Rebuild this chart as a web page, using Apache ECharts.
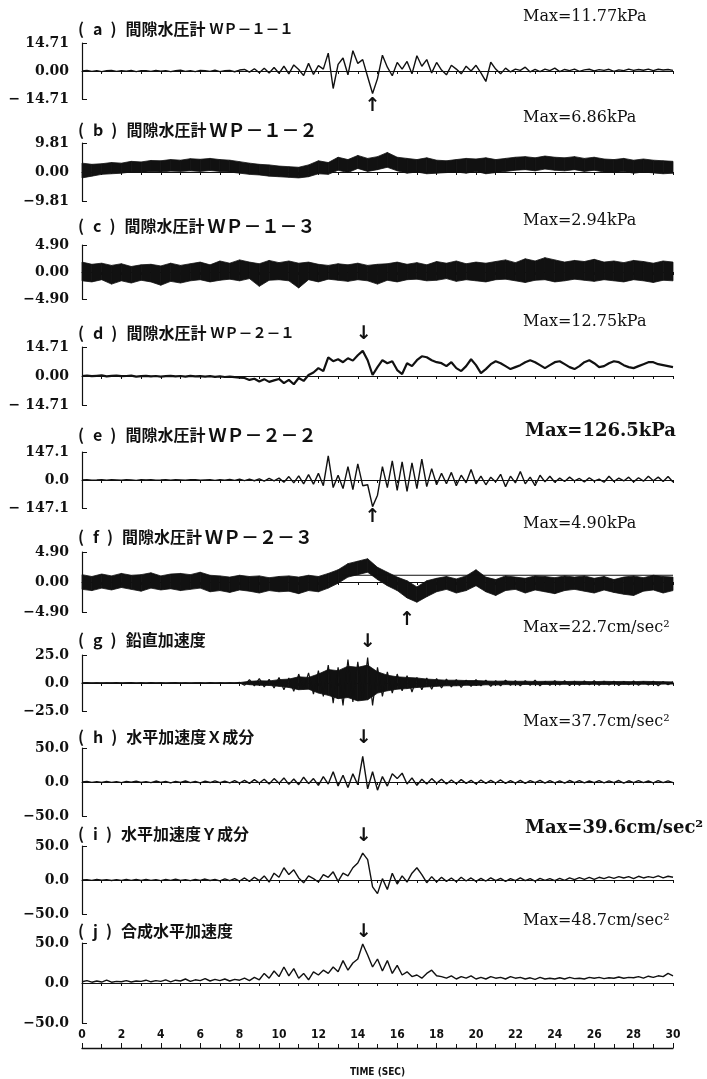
<!DOCTYPE html>
<html>
<head>
<meta charset="utf-8">
<title>間隙水圧・加速度 時刻歴</title>
<script src="https://cdn.jsdelivr.net/npm/echarts@6.0.0/dist/echarts.min.js"></script>
<style>
  html, body { margin: 0; padding: 0; background: #fff; }
  #chart { width: 707px; height: 1079px; }
</style>
</head>
<body>
<div id="chart"></div>
<script>
// single traces: readings every 0.25 s from 0 to 30 s (121 values)
const TIME_STEP = 0.25;
// dense (band-like) records: upper / lower envelope every 0.5 s (61 values)
const ENVELOPE_STEP = 0.5;

const panelLetters = ['a', 'b', 'c', 'd', 'e', 'f', 'g', 'h', 'i', 'j'];
const panelNames = ['間隙水圧計', '間隙水圧計', '間隙水圧計', '間隙水圧計', '間隙水圧計', '間隙水圧計',
  '鉛直加速度', '水平加速度Ｘ成分', '水平加速度Ｙ成分', '合成水平加速度'];
const gaugeIds = ['ＷＰ－１－１', 'ＷＰ－１－２', 'ＷＰ－１－３', 'ＷＰ－２－１', 'ＷＰ－２－２', 'ＷＰ－２－３', '', '', '', ''];
const maxLabels = ['Max=11.77kPa', 'Max=6.86kPa', 'Max=2.94kPa', 'Max=12.75kPa', 'Max=126.5kPa', 'Max=4.90kPa',
  'Max=22.7cm/sec²', 'Max=37.7cm/sec²', 'Max=39.6cm/sec²', 'Max=48.7cm/sec²'];
const yLimits = [14.71, 9.81, 4.90, 14.71, 147.1, 4.90, 25.0, 50.0, 50.0, 50.0];
const yTickLabels = [
  ['− 14.71', '0.00', '14.71'], ['−9.81', '0.00', '9.81'], ['−4.90', '0.00', '4.90'],
  ['− 14.71', '0.00', '14.71'], ['− 147.1', '0.0', '147.1'], ['−4.90', '0.00', '4.90'],
  ['−25.0', '0.0', '25.0'], ['−50.0', '0.0', '50.0'], ['−50.0', '0.0', '50.0'], ['−50.0', '0.0', '50.0']
];

// (a) WP-1-1 kPa
const wp11 = [
  0, 0.3, -0.2, 0.2, -0.3, 0.1, 0.3, -0.2, 0.2,
  -0.1, 0.3, -0.3, 0.2, 0.1, -0.2, 0.3, -0.1,
  0.2, -0.3, 0.1, 0.4, -0.2, 0.2, -0.3, 0.3,
  0.1, -0.2, 0.4, -0.3, 0.2, 0.3, -0.4, 0.5,
  0.8, -0.6, 1.2, -0.9, 1.5, -1.0, 1.8, -1.2,
  2.5, -1.5, 3.2, 0.8, -2.4, 4.0, -1.8, 2.8,
  1.0, 9.4, -9.2, 3.5, 6.8, -2.0, 10.7, 4.0,
  6.0, -3.0, -11.8, -4.0, 8.3, 2.0, -2.5, 4.5,
  1.0, 5.0, -1.5, 8.0, 2.5, 6.0, -1.0, 4.5,
  0.5, -2.0, 3.0, 1.0, -1.5, 2.5, 0.0, 3.0,
  -1.0, -5.5, 4.6, 1.0, -1.5, 1.5, -0.5, 1.0,
  0.3, 2.0, -0.5, 0.8, -0.3, 1.0, 0.2, 1.5,
  -0.3, 0.8, 0.2, 1.0, -0.2, 0.6, 0.9, 0.1,
  0.7, 0.3, 0.9, -0.2, 0.6, 0.2, 1.0, 0.3,
  0.8, 0.4, 1.0, 0.2, 0.9, 0.5, 0.8, 0.3
];
// (b) WP-1-2 kPa, envelope of the dense record
const wp12Upper = [
  3.0, 2.6, 2.8, 3.2, 3.0, 3.6, 3.4, 3.9, 3.8, 4.2, 4.0,
  4.5, 4.3, 4.6, 4.2, 4.0, 3.5, 3.0, 2.6, 2.4, 2.0,
  1.8, 1.6, 2.4, 3.8, 3.2, 5.0, 4.2, 5.6, 4.6, 5.2,
  6.6, 5.0, 4.6, 4.2, 4.8, 4.0, 3.8, 4.2, 4.6, 4.4,
  4.8, 4.2, 4.6, 5.0, 5.2, 4.8, 5.4, 5.0, 4.8, 5.2,
  4.6, 5.0, 4.4, 4.2, 4.6, 4.0, 4.4, 4.0, 3.8, 3.6
];
const wp12Lower = [
  -2.0, -1.4, -0.8, -0.6, -0.4, 0.0, -0.2, 0.2, 0.0, 0.3, 0.2,
  0.4, 0.2, 0.5, 0.2, 0.0, -0.4, -0.8, -1.0, -1.4, -1.6,
  -1.8, -2.0, -1.6, -0.6, -0.8, 0.6, -0.2, 1.2, 0.2, 0.8,
  1.6, 0.4, -0.4, 0.0, -0.6, -0.4, -0.2, 0.0, -0.4, 0.2,
  -0.6, -0.2, 0.2, 0.6, 0.8, 0.4, 1.0, 0.6, 0.4, 0.8,
  0.2, 0.6, 0.0, -0.2, 0.2, -0.4, 0.0, -0.3, -0.6, -0.4
];
// (c) WP-1-3 kPa, envelope
const wp13Upper = [
  1.8, 1.4, 1.6, 1.2, 1.5, 1.0, 1.3, 1.4, 1.1, 1.6, 1.2,
  1.5, 1.8, 1.3, 2.0, 1.6, 2.2, 1.8, 1.5, 2.1, 1.7,
  2.0, 1.6, 1.8, 1.4, 1.2, 1.5, 1.3, 1.6, 1.2, 1.4,
  1.5, 1.8, 1.4, 1.7, 1.3, 1.9, 1.6, 2.0, 1.5, 1.8,
  1.6, 1.9, 2.2, 1.7, 2.4, 2.0, 2.6, 2.2, 1.8, 2.1,
  1.9, 2.3, 1.8, 2.0, 1.7, 2.1, 1.9, 1.6, 2.0, 1.8
];
const wp13Lower = [
  -1.6, -1.8, -1.4, -2.2, -1.6, -2.0, -1.5, -1.8, -2.4, -1.7, -2.0,
  -1.6, -1.4, -1.8, -1.5, -1.3, -1.6, -1.2, -2.6, -1.5, -1.4,
  -1.6, -2.9, -1.4, -1.8, -1.3, -1.5, -1.7, -1.4, -1.6, -2.2,
  -1.5, -1.8, -1.4, -1.3, -1.6, -1.5, -1.2, -1.7, -1.4, -1.6,
  -1.8, -1.4, -1.3, -1.6, -1.9, -1.5, -1.4, -1.8, -1.6, -1.3,
  -1.5, -1.7, -1.4, -1.6, -1.8, -1.4, -1.6, -1.9, -1.5, -1.6
];
// (d) WP-2-1 kPa
const wp21 = [
  0, 0.2, -0.1, 0.1, 0.3, -0.2, 0.1, 0.2, -0.1,
  0.0, 0.2, -0.3, -0.1, 0.1, -0.2, 0.0, -0.3,
  -0.1, 0.1, -0.2, 0.0, -0.3, 0.1, -0.2, -0.1,
  -0.3, -0.1, -0.4, -0.2, -0.5, -0.3, -0.6, -0.8,
  -1.0, -2.0, -1.4, -2.8, -1.6, -3.0, -2.2, -1.5,
  -3.6, -2.0, -4.2, -1.0, -2.5, 0.5, 1.8, 4.0,
  2.5, 9.4, 7.5, 8.5, 7.0, 9.0, 7.8, 10.5,
  12.75, 8.0, 0.5, 4.5, 8.0, 6.5, 7.5, 3.0,
  1.0, 6.5, 5.0, 8.0, 10.0, 9.5, 8.0, 7.0,
  6.5, 5.0, 7.0, 4.0, 2.5, 5.0, 8.5, 5.5,
  1.5, 3.5, 6.0, 7.5, 6.5, 5.0, 3.5, 4.5,
  5.5, 7.0, 8.0, 7.0, 5.5, 4.0, 5.5, 7.0,
  7.5, 6.0, 4.5, 3.5, 5.0, 7.0, 8.0, 6.5,
  4.5, 5.0, 6.5, 7.5, 7.0, 5.5, 4.5, 4.0,
  5.0, 6.0, 7.0, 7.0, 6.0, 5.5, 5.0, 4.5
];
// (e) WP-2-2 kPa
const wp22 = [
  0, 1, -1, 0, 2, -1, 1, 0, -1,
  1, 0, -2, 1, 0, 1, -1, 0,
  2, -1, 1, 0, -1, 1, 2, -1,
  0, 1, -2, 2, -1, 3, -2, 4,
  -3, 5, -4, 6, -6, 8, -5, 10,
  -12, 18, -15, 22, -20, 28, -22, 35,
  -30, 126.5, -40, 25, -45, 70, -50, 85,
  -30, -25, -140, -80, 70, -40, 100, -55,
  95, -60, 90, -45, 110, -35, 60, -25,
  35, -20, 40, -30, 25, -15, 55, -20,
  20, -25, 15, -10, 30, -35, 20, -15,
  45, -20, 15, -30, 25, -10, 20, -12,
  10, -8, 15, -5, 8, -10, 12, -6,
  5, -12, 20, -8, 10, -5, 15, -10,
  12, -6, 20, -4, 15, -8, 18, -10
];
// (f) WP-2-3 kPa, envelope
const wp23Upper = [
  1.2, 0.9, 1.3, 1.0, 1.4, 1.1, 1.2, 1.5, 1.0, 1.3, 1.4,
  1.2, 1.6, 1.1, 1.0, 0.8, 1.1, 0.9, 1.0, 0.7, 0.9,
  1.0, 0.8, 1.1, 0.9, 1.4, 2.0, 3.0, 3.4, 3.8, 2.4,
  1.6, 0.8, 0.2, -0.8, 0.2, 0.6, 0.9, 0.5, 1.0, 2.0,
  0.8, 0.4, 1.0, 0.8, 0.6, 1.0, 0.9, 0.7, 1.0, 0.8,
  1.0, 0.6, 0.9, 0.4, 0.8, 1.0, 0.7, 1.1, 0.9, 0.8
];
const wp23Lower = [
  -1.2, -1.4, -1.0, -1.3, -0.9, -1.2, -1.5, -1.0, -1.3, -1.1, -1.4,
  -1.2, -1.0, -1.6, -1.4, -1.7, -1.3, -1.5, -1.8, -1.4, -1.6,
  -1.5, -1.9, -1.4, -1.6, -1.0, -0.2, 0.8, 1.2, 1.6, 0.4,
  -0.6, -1.4, -2.6, -3.3, -2.4, -1.6, -1.2, -1.8, -1.4, -0.6,
  -1.6, -2.2, -1.4, -1.2, -1.8, -1.3, -1.6, -1.9, -1.4, -1.2,
  -1.5, -1.8, -1.3, -1.7, -2.0, -2.2, -1.5, -1.3, -1.8, -1.4
];
// straight reference level drawn over (f): [time, kPa] at its two ends
const wp23RefLine = [[13.2, 1.1], [30, 1.1]];
// (g) vertical acceleration cm/sec2: spikes plus the dense core
const accVert = [
  0, 0.3, -0.2, 0.2, -0.3, 0.2, -0.1, 0.3, -0.2,
  0.1, 0.3, -0.3, 0.2, -0.2, 0.3, -0.1, 0.2,
  -0.3, 0.1, 0.3, -0.2, 0.2, -0.3, 0.1, 0.2,
  -0.2, 0.3, -0.1, 0.2, -0.3, 0.2, -0.2, 0.5,
  -2.0, 3.0, -2.5, 4.0, -3.5, 3.2, -4.5, 5.0,
  -6.0, 4.5, -7.5, 8.0, -5.5, 9.0, -10.0, 11.0,
  -12.0, 16.0, -18.0, 14.0, -20.0, 21.0, -17.0, 19.0,
  -15.0, 22.7, -20.0, 14.0, -12.0, 10.0, -9.0, 8.0,
  -7.0, 6.5, -8.0, 5.0, -6.0, 4.5, -5.5, 4.0,
  -4.5, 3.5, -3.5, 3.0, -4.0, 2.5, -3.0, 3.0,
  -2.5, 2.5, -3.0, 2.0, -2.5, 2.5, -2.0, 2.0,
  -2.5, 2.0, -2.0, 2.5, -2.5, 1.5, -2.0, 2.0,
  -1.8, 2.0, -2.2, 1.5, -2.0, 1.8, -1.5, 2.0,
  -2.0, 1.5, -1.8, 1.6, -2.2, 1.4, -1.6, 1.8,
  -2.0, 1.2, -1.8, 1.5, -2.4, 1.2, -1.6, 1.0
];
const accVertUpper = [
  0.3, 0.2, 0.3, 0.2, 0.3, 0.2, 0.3, 0.2, 0.3, 0.2, 0.3,
  0.2, 0.3, 0.2, 0.3, 0.3, 0.4, 1.5, 2.0, 1.8, 3.0,
  3.5, 5.5, 5.0, 8.0, 12.0, 11.0, 15.0, 14.0, 16.0, 10.0,
  7.0, 5.5, 5.0, 4.5, 3.5, 3.0, 2.5, 2.5, 2.2, 2.2,
  1.8, 1.6, 1.8, 1.5, 1.6, 1.4, 1.5, 1.6, 1.3, 1.5,
  1.4, 1.2, 1.5, 1.3, 1.4, 1.2, 1.5, 1.3, 1.2, 1.0
];
const accVertLower = [
  -0.3, -0.2, -0.3, -0.2, -0.3, -0.2, -0.3, -0.2, -0.3, -0.2, -0.3,
  -0.2, -0.3, -0.2, -0.3, -0.3, -0.4, -1.5, -2.0, -2.2, -3.0,
  -4.0, -6.0, -5.5, -9.0, -11.0, -14.0, -13.0, -16.0, -15.0, -9.0,
  -7.0, -5.5, -5.0, -4.0, -3.5, -3.0, -2.5, -2.5, -2.0, -2.2,
  -1.6, -1.8, -1.4, -1.6, -1.3, -1.5, -1.3, -1.4, -1.2, -1.3,
  -1.3, -1.2, -1.4, -1.1, -1.3, -1.2, -1.1, -1.3, -1.0, -1.0
];
// (h) horizontal acceleration X cm/sec2
const accX = [
  0, 0.8, -0.6, 0.5, -0.8, 1.0, -0.5, 0.6, -1.0,
  0.8, -0.4, 1.2, -0.8, 0.6, -1.0, 1.4, -0.6,
  0.8, -1.2, 1.0, -0.5, 1.5, -1.0, 0.8, -1.4,
  1.2, -0.8, 1.6, -1.0, 1.4, -1.2, 2.0, -1.5,
  2.5, -2.0, 3.5, -1.5, 4.0, -3.0, 5.0, -2.0,
  6.0, -3.5, 4.5, -4.0, 7.0, -2.5, 5.0, -5.0,
  8.0, -3.0, 15.0, -6.0, 10.0, -8.0, 12.0, -4.0,
  37.7, -10.0, 15.0, -12.0, 8.0, -6.0, 12.0, 5.0,
  13.0, -3.0, 6.0, -5.0, 4.0, -3.0, 5.0, -2.0,
  4.0, -3.0, 3.0, -2.5, 3.5, -2.0, 2.5, -3.0,
  3.0, -2.0, 2.5, -1.5, 3.0, -2.0, 2.0, -1.5,
  2.5, -2.0, 2.0, -1.0, 2.5, -1.5, 2.0, -1.2,
  1.8, -1.5, 2.2, -1.0, 2.0, -1.4, 1.5, -1.0,
  2.0, -1.2, 1.6, -1.0, 2.2, -1.5, 1.8, -1.0,
  2.0, -1.0, 1.5, -1.2, 2.0, -0.8, 1.6, -1.0
];
// (i) horizontal acceleration Y cm/sec2
const accY = [
  0, 0.5, -0.5, 0.8, -0.4, 0.6, -0.8, 0.5, -0.6,
  1.0, -0.5, 0.8, -0.7, 1.0, -0.5, 0.6, -1.0,
  0.8, -0.5, 1.2, -0.8, 0.6, -1.0, 1.0, -0.6,
  1.4, -0.8, 1.0, -1.2, 1.6, -1.0, 2.0, -1.5,
  3.0, -2.0, 4.0, -1.0, 6.0, -3.0, 10.0, 4.0,
  18.0, 8.0, 15.0, 3.0, -4.0, 6.0, 2.0, -3.0,
  8.0, 4.0, 12.0, -2.0, 10.0, 6.0, 18.0, 25.0,
  39.6, 30.0, -10.0, -20.0, 2.0, -14.0, 10.0, -6.0,
  6.0, -3.0, 10.0, 18.0, 8.0, -4.0, 5.0, -3.0,
  4.0, -2.0, 3.0, -2.5, 4.0, -1.5, 3.0, -2.0,
  2.5, -1.5, 3.0, -1.0, 2.5, -2.0, 2.0, -1.0,
  3.0, -1.0, 2.0, -1.5, 2.5, -0.5, 2.0, -1.0,
  2.5, -0.5, 3.0, 0.5, 3.5, 1.0, 4.0, 1.0,
  4.0, 2.0, 4.5, 2.5, 5.0, 3.0, 5.0, 2.0,
  5.5, 3.0, 5.0, 3.5, 6.0, 3.0, 5.5, 4.0
];
// (j) resultant horizontal acceleration cm/sec2
const accHoriz = [
  1.5, 3.0, 1.0, 2.5, 1.2, 3.5, 1.0, 2.0, 1.5,
  3.0, 1.2, 2.5, 2.0, 3.5, 1.5, 3.0, 2.0,
  4.0, 1.5, 3.5, 2.5, 5.0, 2.0, 4.0, 3.0,
  5.5, 2.5, 4.5, 3.0, 5.0, 2.5, 4.5, 3.5,
  6.0, 3.0, 7.0, 4.0, 12.0, 6.0, 15.0, 8.0,
  20.0, 9.0, 18.0, 6.0, 12.0, 4.0, 14.0, 10.0,
  16.0, 12.0, 20.0, 14.0, 28.0, 16.0, 25.0, 30.0,
  48.7, 35.0, 20.0, 30.0, 15.0, 28.0, 12.0, 22.0,
  10.0, 14.0, 8.0, 10.0, 6.0, 12.0, 16.0, 9.0,
  8.0, 6.0, 9.0, 5.0, 8.0, 6.0, 9.0, 5.0,
  7.0, 5.0, 8.0, 6.0, 7.0, 5.0, 8.0, 6.0,
  7.0, 5.0, 6.5, 4.5, 7.0, 5.0, 6.0, 5.0,
  6.5, 5.0, 7.0, 5.5, 6.0, 5.0, 7.0, 6.0,
  7.0, 5.5, 6.5, 6.0, 7.5, 6.0, 7.0, 6.5,
  8.0, 6.0, 8.5, 7.0, 9.0, 8.0, 12.0, 9.0
];

// what each panel draws: a single trace and/or a filled envelope
const panelTraces = [wp11, null, null, wp21, wp22, null, accVert, accX, accY, accHoriz];
const panelBands = [null, [wp12Lower, wp12Upper], [wp13Lower, wp13Upper], null, null,
  [wp23Lower, wp23Upper], [accVertLower, accVertUpper], null, null, null];

// arrows marking the peaks: panel, time, level in the panel's units
const arrows = [
  { panel: 0, t: 14.75, v: -18.4, glyph: '↑' },
  { panel: 3, t: 14.3, v: 21.3, glyph: '↓' },
  { panel: 4, t: 14.75, v: -194, glyph: '↑' },
  { panel: 5, t: 16.5, v: -6.2, glyph: '↑' },
  { panel: 6, t: 14.5, v: 36.6, glyph: '↓' },
  { panel: 7, t: 14.3, v: 64.7, glyph: '↓' },
  { panel: 8, t: 14.3, v: 64.7, glyph: '↓' },
  { panel: 9, t: 14.3, v: 63.8, glyph: '↓' }
];

// layout (pixels from top)
const gridTops = [43, 143, 245, 347, 452, 552, 655, 748, 846, 943];
const gridBottoms = [99, 201, 299, 405, 508, 612, 711, 816, 914, 1023];
const titleCentres = [29, 130, 226, 333, 435, 537, 640, 737, 834, 931];
const maxCentres = [17, 118, 221, 322, 431, 524, 628, 722, 828, 921];
const lineWidths = [1.4, 1, 1, 2.2, 1.4, 1, 1.2, 1.4, 1.4, 1.4];
const bigGauge = [false, true, true, false, true, true];
const boldMax = [false, false, false, false, true, false, false, false, true, false];

const INK = '#111';
const JP = '"Noto Sans CJK JP", sans-serif';
const SERIF = '"DejaVu Serif", "Liberation Serif", serif';
const NARROW = '"DejaVu Sans Condensed", "Liberation Sans Narrow", sans-serif';

const chart = echarts.init(document.getElementById('chart'));

const grids = panelLetters.map((_, i) => ({
  left: 82,
  right: 34,
  top: gridTops[i],
  height: gridBottoms[i] - gridTops[i]
}));

// zero-line axes with 1 s ticks
const xAxes = panelLetters.map((_, i) => ({
  gridIndex: i,
  type: 'value',
  min: 0,
  max: 30,
  interval: 1,
  axisLine: { onZero: true, lineStyle: { color: INK, width: 1 } },
  axisTick: { show: true, length: 3, lineStyle: { color: INK } },
  axisLabel: { show: false },
  splitLine: { show: false }
}));

// time axis under the last panel
xAxes.push({
  gridIndex: 9,
  type: 'value',
  min: 0,
  max: 30,
  interval: 2,
  position: 'bottom',
  offset: 25,
  axisLine: { onZero: false, lineStyle: { color: INK, width: 1.3 } },
  axisTick: { show: true, inside: true, length: 5, lineStyle: { color: INK } },
  minorTick: { show: true, splitNumber: 2, length: 4, lineStyle: { color: INK } },
  axisLabel: { inside: true, margin: 7, color: INK, fontFamily: NARROW, fontWeight: 'bold', fontSize: 12 },
  splitLine: { show: false },
  name: 'TIME (SEC)',
  nameLocation: 'middle',
  nameGap: 19,
  nameTextStyle: { color: INK, fontFamily: NARROW, fontWeight: 'bold', fontSize: 10 }
});

const yAxes = panelLetters.map((_, i) => ({
  gridIndex: i,
  type: 'value',
  min: -yLimits[i],
  max: yLimits[i],
  interval: yLimits[i],
  axisLine: { show: true, lineStyle: { color: INK, width: 1.2 } },
  axisTick: { show: true, inside: true, length: 5, lineStyle: { color: INK } },
  splitLine: { show: false },
  axisLabel: {
    color: INK,
    fontFamily: SERIF,
    fontWeight: 'bold',
    fontSize: 14,
    margin: 13,
    formatter: v => (v < 0 ? yTickLabels[i][0] : v > 0 ? yTickLabels[i][2] : yTickLabels[i][1])
  }
}));

// a filled envelope: each item is one 0.5 s slice [t0, lo0, hi0, t1, lo1, hi1]
function bandSeries(i, lower, upper) {
  const slices = lower.slice(0, -1).map((lo, k) => [
    k * ENVELOPE_STEP, lo, upper[k], (k + 1) * ENVELOPE_STEP, lower[k + 1], upper[k + 1]
  ]);
  return {
    type: 'custom',
    coordinateSystem: 'cartesian2d',
    xAxisIndex: i,
    yAxisIndex: i,
    silent: true,
    encode: { x: [0, 3], y: [1, 2, 4, 5] },
    data: slices,
    renderItem: (params, api) => {
      const a = api.coord([api.value(0), api.value(1)]);
      const b = api.coord([api.value(0), api.value(2)]);
      const c = api.coord([api.value(3), api.value(5)]);
      const d = api.coord([api.value(3), api.value(4)]);
      return {
        type: 'polygon',
        shape: { points: [a, b, c, d] },
        style: { fill: INK, stroke: INK, lineWidth: 0.8 }
      };
    }
  };
}

const series = [];
panelLetters.forEach((_, i) => {
  const band = panelBands[i];
  if (band) series.push(bandSeries(i, band[0], band[1]));
  const values = panelTraces[i];
  if (values) {
    series.push({
      type: 'line',
      xAxisIndex: i,
      yAxisIndex: i,
      data: values.map((v, k) => [k * TIME_STEP, v]),
      showSymbol: false,
      symbol: 'none',
      silent: true,
      lineStyle: { color: INK, width: lineWidths[i] }
    });
  }
});

series.push({
  type: 'line',
  xAxisIndex: 5,
  yAxisIndex: 5,
  data: wp23RefLine,
  showSymbol: false,
  symbol: 'none',
  silent: true,
  lineStyle: { color: INK, width: 1 }
});

const titleRich = {
  p: { fontFamily: JP, fontSize: 16, color: INK, lineHeight: 22, padding: [0, 9, 0, 0] },
  l: { fontFamily: JP, fontSize: 16, color: INK, lineHeight: 22, padding: [0, 8, 0, 0] },
  q: { fontFamily: JP, fontSize: 16, color: INK, lineHeight: 22, padding: [0, 9, 0, 0] },
  n: { fontFamily: JP, fontSize: 16, color: INK, lineHeight: 22 },
  s: { fontFamily: JP, fontSize: 14, color: INK, lineHeight: 22, padding: [0, 0, 0, 4] },
  g: { fontFamily: JP, fontSize: 18, fontWeight: 'bold', color: INK, lineHeight: 22, padding: [0, 0, 0, 3] }
};

const titles = panelLetters.map((letter, i) => {
  let text = `{p|(}{l|${letter}}{q|)}{n|${panelNames[i]}}`;
  if (gaugeIds[i]) text += `{${bigGauge[i] ? 'g' : 's'}|${gaugeIds[i]}}`;
  return { text, left: 78, top: titleCentres[i] - 11, padding: 0, textStyle: { rich: titleRich } };
});

maxLabels.forEach((label, i) => {
  titles.push({
    text: label,
    left: boldMax[i] ? 525 : 523,
    top: maxCentres[i] - 10,
    padding: 0,
    textStyle: {
      color: INK,
      fontFamily: SERIF,
      fontSize: boldMax[i] ? 18 : 16,
      fontWeight: boldMax[i] ? 'bold' : 'normal',
      lineHeight: 20
    }
  });
});

chart.setOption({
  animation: false,
  backgroundColor: '#fff',
  title: titles,
  grid: grids,
  xAxis: xAxes,
  yAxis: yAxes,
  series
});

// peak arrows, placed through each panel's own scales
chart.setOption({
  graphic: arrows.map(a => {
    const [x, y] = chart.convertToPixel({ gridIndex: a.panel }, [a.t, a.v]);
    return {
      type: 'text',
      x,
      y,
      silent: true,
      style: {
        text: a.glyph,
        fill: INK,
        font: 'bold 19px "DejaVu Sans", sans-serif',
        align: 'center',
        verticalAlign: 'middle'
      }
    };
  })
});
</script>
</body>
</html>
